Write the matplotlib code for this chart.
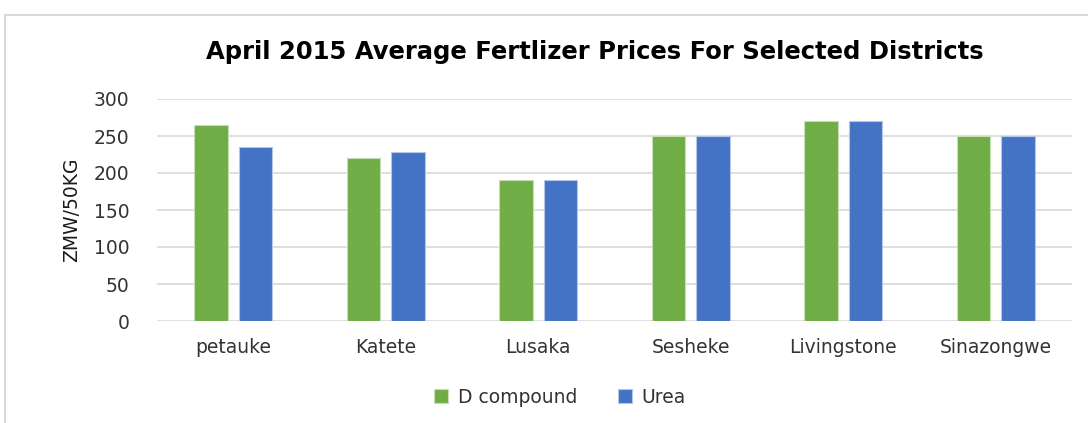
import matplotlib
matplotlib.use("Agg")
import matplotlib.pyplot as plt
from matplotlib.patches import Rectangle
import numpy as np

categories = ["petauke", "Katete", "Lusaka", "Sesheke", "Livingstone", "Sinazongwe"]
d_compound = [265, 220, 190, 250, 270, 250]
urea = [235, 228, 190, 250, 270, 250]
series_names = ["D compound", "Urea"]
yticks = [0, 50, 100, 150, 200, 250, 300]

plt.rcParams['font.family'] = ['DejaVu Sans']

fig = plt.figure(figsize=(10.88, 4.23), dpi=100)
fig.patches.append(Rectangle((5/1088, -0.1), 1.2, 1 - 15/423 + 0.1, transform=fig.transFigure,
                             fill=False, edgecolor='#d9d9d9', linewidth=1.5))
ax = fig.add_axes([157/1088, 1 - 321/423, (1072 - 157)/1088, (321 - 99)/423])

x = np.arange(len(categories))
w = 0.22
off = 0.145
ax.bar(x - off, d_compound, w, color='#70AD47', edgecolor='#c5e0b4', linewidth=0.8, label=series_names[0], zorder=3)
ax.bar(x + off, urea, w, color='#4472C4', edgecolor='#b4c7e7', linewidth=0.8, label=series_names[1], zorder=3)

ax.set_xlim(-0.5, len(categories) - 0.5)
ax.set_ylim(0, 300)
ax.set_yticks(yticks)
ax.set_xticks(x)
ax.set_xticklabels(categories, fontsize=13.5, color='#333333')
ax.tick_params(axis='y', labelsize=13.5, colors='#333333', length=0, pad=20)
ax.tick_params(axis='x', length=0, pad=12)
ax.grid(axis='y', color='#d9d9d9', linewidth=1.2, zorder=0)
for s in ax.spines.values():
    s.set_visible(False)
ax.set_ylabel("ZMW/50KG", fontsize=13.5, color='#1a1a1a', labelpad=9)

fig.text(595/1088, 1 - 52/423, "April 2015 Average Fertlizer Prices For Selected Districts",
         ha='center', va='center', fontsize=17.5, fontweight='bold', color='#000000')

fig.legend(loc='center', bbox_to_anchor=(560/1088, 1 - 397/423), ncol=2, frameon=False,
           fontsize=13.5, handlelength=0.75, handleheight=0.75, columnspacing=2.2, handletextpad=0.5,
           labelcolor='#333333')

fig.savefig("out.png", dpi=100)
